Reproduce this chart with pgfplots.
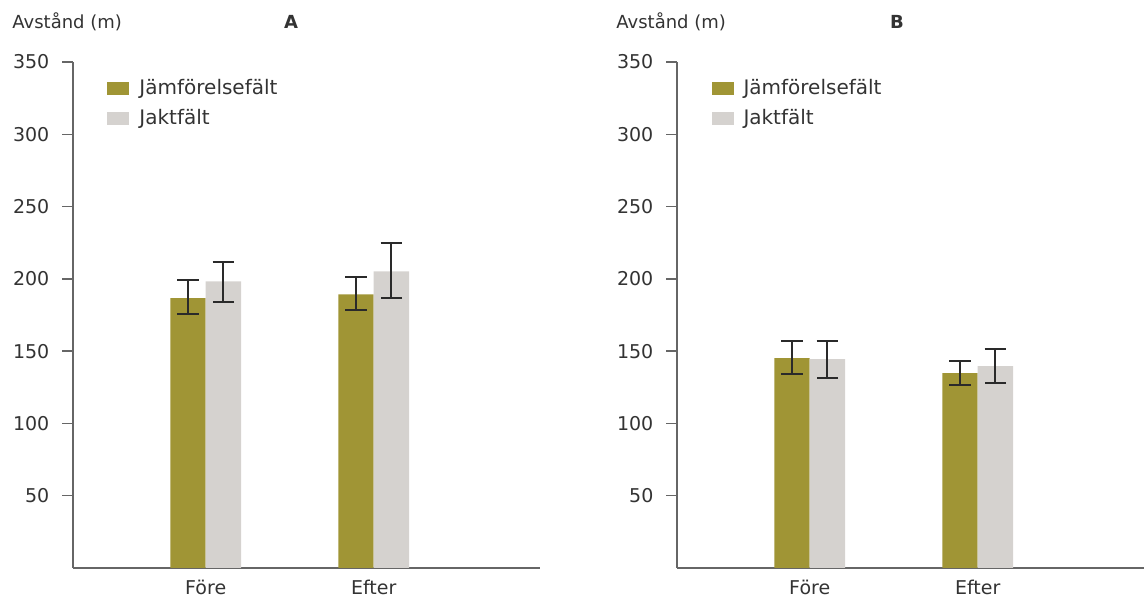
\documentclass[border=0pt]{standalone}
\usepackage{pgfplots}
\pgfplotsset{compat=1.18}
\usepackage{fontspec}
\setmainfont{DejaVu Sans}
\definecolor{olivebar}{HTML}{A09535}
\definecolor{graybar}{HTML}{D5D2CF}
\definecolor{txt}{HTML}{333333}
\definecolor{axc}{HTML}{666666}
\definecolor{errc}{HTML}{2A2A2A}
\pgfplotsset{
  panel/.style={
    scale only axis, width=233.5pt, height=253pt,
    xmin=0.21, xmax=2.99, ymin=0, ymax=350,
    axis x line*=bottom, axis y line*=left,
    axis line style={axc, line width=0.8pt, -},
    ytick={50,100,...,350},
    xtick={1,2}, xticklabels={Före, Efter},
    x tick style={draw=none},
    y tick style={axc, line width=0.7pt},
    tick align=outside, major tick length=5.3pt,
    /pgf/number format/assume math mode=true,
    tick label style={font=\fontsize{9.5}{11}\selectfont, text=txt},
    yticklabel style={xshift=-3pt},
    xticklabel style={yshift=3pt},
    legend style={draw=none, fill=none, at={(axis description cs:0.073,0.974)}, anchor=north west,
      inner sep=0pt, row sep=1.6pt, font=\fontsize{10}{12}\selectfont, text=txt},
    legend cell align=left,
    legend image code/.code={\fill[##1] (0pt,-3.25pt) rectangle (11pt,3.25pt); \path (0pt,0pt) (14pt,0pt);},
    clip=false,
  },
  bars/.style={ybar, draw=none, bar width=0.211, bar shift=0,
    error bars/y dir=both, error bars/y explicit,
    error bars/error bar style={line width=1pt, draw=errc, color=errc},
    error bars/error mark options={rotate=90, line width=1pt, mark size=5.4pt, draw=errc, color=errc}},
}
\begin{document}
\begin{tikzpicture}
\useasboundingbox (-36.5pt,-14.5pt) rectangle (535.5pt,284pt);
\begin{axis}[panel]
\addplot[bars, fill=olivebar] coordinates {
 (0.8945,186.6) += (0,12.6) -= (0,10.6)
 (1.8945,189.3) += (0,11.7) -= (0,10.8)
};
\addplot[bars, fill=graybar] coordinates {
 (1.1055,198.3) += (0,13.6) -= (0,14.0)
 (2.1055,205.2) += (0,19.3) -= (0,18.4)
};
\legend{Jämförelsefält, Jaktfält}
\node[anchor=west, font=\fontsize{9}{11}\selectfont, text=txt, inner sep=0pt] at (axis description cs:-0.1306,1.079) {Avstånd (m)};
\node[font=\fontsize{9}{11}\selectfont\bfseries, text=txt, inner sep=0pt] at (axis description cs:0.467,1.079) {A};
\end{axis}
\begin{axis}[panel, at={(302pt,0pt)}]
\addplot[bars, fill=olivebar] coordinates {
 (0.8945,145.2) += (0,11.7) -= (0,11.3)
 (1.8945,134.8) += (0,8.5) -= (0,8.2)
};
\addplot[bars, fill=graybar] coordinates {
 (1.1055,144.5) += (0,12.6) -= (0,13.3)
 (2.1055,139.7) += (0,12.1) -= (0,11.6)
};
\legend{Jämförelsefält, Jaktfält}
\node[anchor=west, font=\fontsize{9}{11}\selectfont, text=txt, inner sep=0pt] at (axis description cs:-0.1306,1.079) {Avstånd (m)};
\node[font=\fontsize{9}{11}\selectfont\bfseries, text=txt, inner sep=0pt] at (axis description cs:0.471,1.079) {B};
\end{axis}
\end{tikzpicture}
\end{document}
